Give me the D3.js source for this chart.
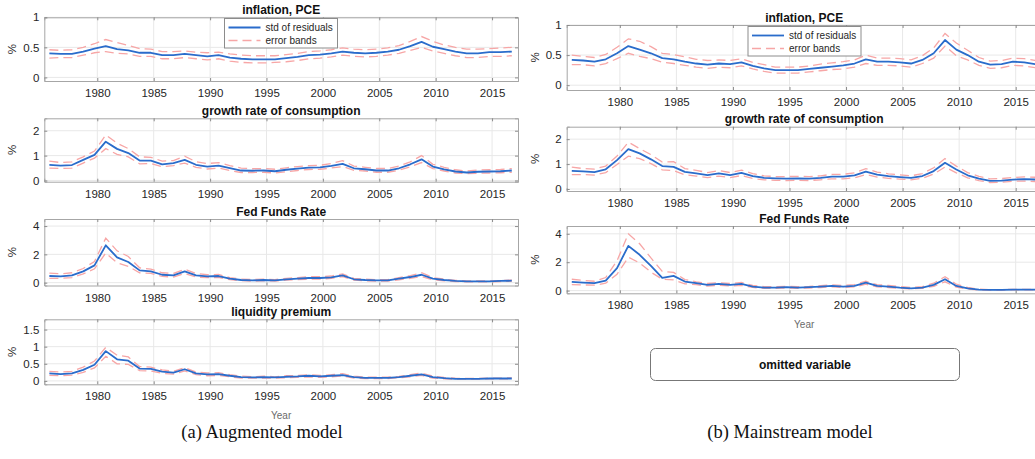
<!DOCTYPE html>
<html>
<head>
<meta charset="utf-8">
<script src="https://cdn.jsdelivr.net/npm/d3@7/dist/d3.min.js"></script>
<style>
  html, body { margin: 0; padding: 0; background: #fff; }
  svg { display: block; }
  text { font-family: "Liberation Sans", Arial, Helvetica, sans-serif; }
</style>
</head>
<body>
<svg id="chart" width="1035" height="459"></svg>
<script>
// Quarter-4 observation dates, 1975Q4 .. 2016Q4
const dates = d3.range(1975.75, 2017, 1);
const yearTicks = [1980, 1985, 1990, 1995, 2000, 2005, 2010, 2015];

// (a) Augmented model
const augInflMean = [0.40,0.39,0.39,0.43,0.48,0.52,0.47,0.45,0.41,0.41,0.37,0.37,0.39,0.37,0.35,0.37,0.33,0.31,0.30,0.30,0.30,0.32,0.34,0.37,0.38,0.40,0.43,0.41,0.40,0.41,0.43,0.46,0.52,0.59,0.51,0.47,0.43,0.40,0.40,0.42,0.42,0.43];
const augInflUp   = [0.46,0.45,0.46,0.50,0.56,0.63,0.58,0.53,0.48,0.47,0.43,0.43,0.44,0.42,0.41,0.42,0.39,0.37,0.36,0.36,0.36,0.38,0.40,0.43,0.44,0.46,0.49,0.47,0.46,0.47,0.49,0.53,0.60,0.68,0.60,0.54,0.50,0.47,0.47,0.48,0.49,0.50];
const augInflLo   = [0.32,0.33,0.33,0.37,0.41,0.43,0.40,0.39,0.35,0.35,0.31,0.31,0.33,0.31,0.29,0.31,0.27,0.25,0.24,0.24,0.25,0.26,0.28,0.31,0.32,0.34,0.37,0.35,0.34,0.35,0.37,0.40,0.45,0.50,0.44,0.40,0.36,0.33,0.33,0.35,0.35,0.36];

const augConsMean = [0.63,0.60,0.62,0.83,1.03,1.56,1.27,1.10,0.80,0.80,0.65,0.70,0.83,0.63,0.56,0.60,0.50,0.40,0.39,0.40,0.37,0.43,0.48,0.52,0.53,0.59,0.67,0.49,0.45,0.40,0.40,0.49,0.65,0.85,0.56,0.45,0.36,0.32,0.35,0.36,0.37,0.40];
const augConsUp   = [0.78,0.72,0.75,0.95,1.18,1.83,1.50,1.28,0.95,0.93,0.78,0.80,0.98,0.75,0.68,0.72,0.60,0.50,0.47,0.48,0.45,0.51,0.56,0.60,0.61,0.68,0.80,0.58,0.53,0.48,0.48,0.58,0.75,1.00,0.65,0.53,0.43,0.38,0.42,0.43,0.44,0.48];
const augConsLo   = [0.50,0.48,0.50,0.70,0.90,1.28,1.05,0.95,0.67,0.68,0.55,0.60,0.70,0.53,0.46,0.50,0.40,0.32,0.32,0.33,0.30,0.35,0.40,0.44,0.45,0.50,0.56,0.41,0.38,0.33,0.33,0.41,0.55,0.72,0.48,0.38,0.30,0.27,0.29,0.30,0.31,0.33];

const augFfrMean  = [0.47,0.45,0.52,0.80,1.22,2.64,1.79,1.46,0.87,0.80,0.56,0.52,0.80,0.52,0.45,0.47,0.28,0.19,0.16,0.19,0.16,0.24,0.28,0.33,0.33,0.38,0.52,0.24,0.19,0.16,0.16,0.28,0.40,0.56,0.28,0.19,0.12,0.09,0.09,0.09,0.12,0.14];
const augFfrUp    = [0.68,0.62,0.70,1.00,1.50,3.15,2.25,1.85,1.05,0.95,0.70,0.65,0.95,0.65,0.56,0.58,0.36,0.25,0.22,0.25,0.22,0.31,0.36,0.42,0.42,0.47,0.62,0.31,0.25,0.21,0.21,0.36,0.50,0.70,0.36,0.25,0.16,0.12,0.12,0.12,0.15,0.18];
const augFfrLo    = [0.30,0.30,0.36,0.62,0.98,2.10,1.40,1.15,0.70,0.65,0.44,0.40,0.65,0.40,0.35,0.37,0.21,0.14,0.11,0.14,0.11,0.18,0.21,0.25,0.25,0.30,0.42,0.18,0.14,0.11,0.11,0.20,0.31,0.43,0.20,0.13,0.08,0.06,0.06,0.06,0.08,0.10];

const augLiqMean  = [0.22,0.20,0.22,0.32,0.47,0.87,0.63,0.59,0.36,0.35,0.27,0.24,0.34,0.22,0.19,0.20,0.15,0.11,0.10,0.11,0.10,0.12,0.13,0.15,0.13,0.15,0.17,0.11,0.09,0.09,0.09,0.11,0.15,0.19,0.11,0.08,0.06,0.06,0.06,0.07,0.07,0.07];
const augLiqUp    = [0.28,0.26,0.28,0.40,0.58,0.98,0.75,0.70,0.42,0.40,0.32,0.28,0.39,0.26,0.23,0.24,0.18,0.14,0.12,0.14,0.12,0.15,0.16,0.18,0.16,0.18,0.21,0.14,0.11,0.11,0.11,0.13,0.18,0.23,0.14,0.10,0.08,0.07,0.07,0.08,0.08,0.09];
const augLiqLo    = [0.16,0.15,0.17,0.25,0.38,0.72,0.50,0.48,0.30,0.29,0.22,0.20,0.29,0.18,0.15,0.16,0.12,0.08,0.08,0.08,0.08,0.09,0.10,0.12,0.10,0.12,0.14,0.08,0.07,0.07,0.07,0.09,0.12,0.16,0.08,0.06,0.05,0.05,0.05,0.06,0.06,0.06];

// (b) Mainstream model
const mainInflMean = [0.42,0.41,0.39,0.43,0.53,0.65,0.59,0.53,0.45,0.43,0.39,0.36,0.34,0.36,0.35,0.38,0.32,0.28,0.25,0.25,0.25,0.27,0.29,0.31,0.33,0.36,0.43,0.39,0.39,0.38,0.36,0.42,0.53,0.75,0.59,0.50,0.39,0.34,0.35,0.39,0.38,0.35];
const mainInflUp   = [0.50,0.48,0.46,0.51,0.63,0.77,0.73,0.64,0.53,0.51,0.47,0.43,0.41,0.42,0.41,0.44,0.38,0.34,0.30,0.30,0.30,0.32,0.35,0.37,0.39,0.42,0.50,0.45,0.45,0.44,0.42,0.49,0.62,0.86,0.70,0.58,0.46,0.40,0.41,0.45,0.44,0.41];
const mainInflLo   = [0.34,0.34,0.32,0.36,0.44,0.53,0.48,0.44,0.38,0.36,0.33,0.30,0.28,0.30,0.29,0.32,0.27,0.23,0.20,0.20,0.20,0.22,0.24,0.26,0.27,0.30,0.36,0.33,0.33,0.32,0.30,0.36,0.45,0.65,0.49,0.42,0.33,0.28,0.29,0.33,0.32,0.29];

const mainConsMean = [0.73,0.71,0.68,0.79,1.16,1.60,1.43,1.19,0.92,0.89,0.69,0.63,0.56,0.63,0.56,0.65,0.52,0.45,0.43,0.42,0.43,0.42,0.45,0.50,0.50,0.55,0.70,0.58,0.52,0.48,0.45,0.52,0.72,1.05,0.78,0.55,0.42,0.33,0.34,0.38,0.40,0.38];
const mainConsUp   = [0.88,0.82,0.80,0.92,1.32,1.88,1.62,1.38,1.08,1.10,0.82,0.75,0.66,0.74,0.66,0.76,0.62,0.53,0.50,0.50,0.51,0.50,0.53,0.59,0.59,0.65,0.82,0.68,0.61,0.57,0.53,0.62,0.85,1.22,0.92,0.66,0.51,0.41,0.42,0.46,0.49,0.47];
const mainConsLo   = [0.58,0.58,0.56,0.66,0.98,1.32,1.22,1.02,0.77,0.74,0.57,0.52,0.46,0.52,0.46,0.54,0.42,0.37,0.35,0.34,0.35,0.34,0.37,0.41,0.41,0.45,0.58,0.48,0.43,0.40,0.37,0.43,0.60,0.88,0.65,0.45,0.34,0.26,0.27,0.31,0.32,0.30];

const mainFfrMean  = [0.61,0.56,0.52,0.71,1.58,3.15,2.52,1.74,0.90,1.04,0.64,0.52,0.40,0.47,0.40,0.47,0.28,0.21,0.21,0.24,0.21,0.24,0.28,0.33,0.28,0.33,0.56,0.33,0.28,0.21,0.16,0.21,0.40,0.80,0.33,0.16,0.07,0.05,0.05,0.07,0.07,0.07];
const mainFfrUp    = [0.80,0.72,0.66,0.92,2.10,4.00,3.30,2.30,1.35,1.28,0.78,0.62,0.50,0.56,0.50,0.58,0.36,0.28,0.27,0.30,0.27,0.30,0.35,0.40,0.36,0.42,0.66,0.42,0.36,0.28,0.22,0.28,0.52,0.98,0.45,0.22,0.10,0.07,0.07,0.09,0.09,0.09];
const mainFfrLo    = [0.42,0.40,0.38,0.52,1.15,2.35,1.95,1.30,0.80,0.75,0.48,0.42,0.32,0.38,0.32,0.37,0.22,0.16,0.16,0.18,0.16,0.18,0.22,0.26,0.22,0.26,0.45,0.26,0.22,0.16,0.12,0.16,0.30,0.62,0.24,0.11,0.05,0.03,0.03,0.05,0.05,0.05];

const legendLabels = ["std of residuals", "error bands"];
const captions = ["(a) Augmented model", "(b) Mainstream model"];
const omittedLabel = "omitted variable";

// Panel layout: plot box in pixels plus y-axis limits and ticks
const panels = [
  { title: "inflation, PCE", x0: 44.3, x1: 518, y0: 17.3, y1: 81, yDom: [-0.06, 1], yTicks: [0, 0.5, 1],
    mean: augInflMean, up: augInflUp, lo: augInflLo, legend: { x: 224.5, y: 18.5 } },
  { title: "growth rate of consumption", x0: 44.3, x1: 518, y0: 118.3, y1: 181.7, yDom: [-0.05, 2.5], yTicks: [0, 1, 2],
    mean: augConsMean, up: augConsUp, lo: augConsLo },
  { title: "Fed Funds Rate", x0: 44.3, x1: 518, y0: 219, y1: 285.5, yDom: [-0.2, 4.5], yTicks: [0, 2, 4],
    mean: augFfrMean, up: augFfrUp, lo: augFfrLo },
  { title: "liquidity premium", x0: 44.3, x1: 518, y0: 319.3, y1: 384.3, yDom: [-0.1, 1.8], yTicks: [0, 0.5, 1, 1.5],
    mean: augLiqMean, up: augLiqUp, lo: augLiqLo, xlabel: true },
  { title: "inflation, PCE", x0: 566.7, x1: 1041.7, y0: 25, y1: 90, yDom: [-0.08, 1], yTicks: [0, 0.5, 1],
    mean: mainInflMean, up: mainInflUp, lo: mainInflLo, legend: { x: 748, y: 26.5 } },
  { title: "growth rate of consumption", x0: 566.7, x1: 1041.7, y0: 126.7, y1: 191, yDom: [-0.08, 2.5], yTicks: [0, 1, 2],
    mean: mainConsMean, up: mainConsUp, lo: mainConsLo },
  { title: "Fed Funds Rate", x0: 566.7, x1: 1041.7, y0: 226, y1: 293.3, yDom: [-0.19, 4.55], yTicks: [0, 2, 4],
    mean: mainFfrMean, up: mainFfrUp, lo: mainFfrLo, xlabel: true }
];

const BLUE = "#2a6ccb";
const BAND = "#f7a6a6";
const GRID = "#e8e8e8";
const AXIS = "#a6a6a6";
const TICKTXT = "#262626";
const DASH = "9,5";

const svg = d3.select("#chart");

panels.forEach(p => {
  const x = d3.scaleLinear().domain([1975.3, 2017.3]).range([p.x0, p.x1]);
  const y = d3.scaleLinear().domain(p.yDom).range([p.y1, p.y0]);
  const g = svg.append("g");
  const w = p.x1 - p.x0, h = p.y1 - p.y0;

  // grid
  g.append("g").selectAll("line").data(yearTicks).join("line")
    .attr("x1", d => x(d)).attr("x2", d => x(d))
    .attr("y1", p.y0).attr("y2", p.y1)
    .attr("stroke", GRID).attr("stroke-width", 1);
  g.append("g").selectAll("line").data(p.yTicks).join("line")
    .attr("x1", p.x0).attr("x2", p.x1)
    .attr("y1", d => y(d)).attr("y2", d => y(d))
    .attr("stroke", GRID).attr("stroke-width", 1);

  // series
  const line = arr => d3.line().x((d, i) => x(dates[i])).y(d => y(d))(arr);
  const clipId = "clip" + Math.round(p.x0) + "_" + Math.round(p.y0);
  svg.append("clipPath").attr("id", clipId).append("rect")
    .attr("x", p.x0).attr("y", p.y0).attr("width", w).attr("height", h);
  const s = g.append("g").attr("clip-path", `url(#${clipId})`);
  [p.up, p.lo].forEach(arr => {
    s.append("path").attr("d", line(arr)).attr("fill", "none")
      .attr("stroke", BAND).attr("stroke-width", 1.3).attr("stroke-dasharray", DASH);
  });
  s.append("path").attr("d", line(p.mean)).attr("fill", "none")
    .attr("stroke", BLUE).attr("stroke-width", 1.8).attr("stroke-linejoin", "round");

  // axes: inward ticks on all four sides, MATLAB-style
  const fmt = d3.format("~g");
  g.append("g").attr("transform", `translate(0,${p.y1})`)
    .call(d3.axisBottom(x).tickValues(yearTicks).tickSize(-3).tickPadding(8).tickFormat(d3.format("d")));
  g.append("g").attr("transform", `translate(0,${p.y0})`)
    .call(d3.axisTop(x).tickValues(yearTicks).tickSize(-3).tickFormat(""));
  g.append("g").attr("transform", `translate(${p.x0},0)`)
    .call(d3.axisLeft(y).tickValues(p.yTicks).tickSize(-3).tickPadding(5).tickFormat(fmt));
  g.append("g").attr("transform", `translate(${p.x1},0)`)
    .call(d3.axisRight(y).tickValues(p.yTicks).tickSize(-3).tickFormat(""));
  g.selectAll(".domain").attr("stroke", AXIS).attr("stroke-width", 1);
  g.selectAll(".tick line").attr("stroke", "#8c8c8c");
  g.selectAll(".tick text").attr("fill", TICKTXT).style("font-size", "11.5px")
    .style("font-family", '"Liberation Sans", Arial, sans-serif');

  // y label
  g.append("text")
    .attr("transform", `translate(${p.x0 - 28},${(p.y0 + p.y1) / 2}) rotate(-90)`)
    .attr("text-anchor", "middle").attr("fill", TICKTXT)
    .style("font-size", "11.5px").text("%");

  // title
  g.append("text").attr("x", (p.x0 + p.x1) / 2).attr("y", p.y0 - 3.5)
    .attr("text-anchor", "middle").attr("fill", "#111")
    .style("font-size", "12px").style("font-weight", "bold").text(p.title);

  if (p.xlabel) {
    g.append("text").attr("x", (p.x0 + p.x1) / 2).attr("y", p.y1 + 35)
      .attr("text-anchor", "middle").attr("fill", "#6b6b6b")
      .style("font-size", "10px").text("Year");
  }

  if (p.legend) {
    const L = g.append("g").attr("transform", `translate(${p.legend.x},${p.legend.y})`);
    L.append("rect").attr("width", 113).attr("height", 29.5)
      .attr("fill", "#fff").attr("stroke", "#8c8c8c").attr("stroke-width", 1);
    legendLabels.forEach((lab, i) => {
      const yy = 9 + i * 13;
      L.append("line").attr("x1", 4).attr("x2", 36).attr("y1", yy).attr("y2", yy)
        .attr("stroke", i === 0 ? BLUE : BAND).attr("stroke-width", i === 0 ? 1.8 : 1.3)
        .attr("stroke-dasharray", i === 0 ? null : DASH);
      L.append("text").attr("x", 41).attr("y", yy + 3.5).attr("fill", TICKTXT)
        .style("font-size", "10px").text(lab);
    });
  }
});

// placeholder panel for the variable missing from the mainstream model
svg.append("rect").attr("x", 650.5).attr("y", 348.5).attr("width", 309).attr("height", 32)
  .attr("rx", 5).attr("fill", "#fff").attr("stroke", "#777").attr("stroke-width", 1);
svg.append("text").attr("x", 805).attr("y", 368.5).attr("text-anchor", "middle")
  .attr("fill", "#111").style("font-size", "12px").style("font-weight", "bold").text(omittedLabel);

// sub-figure captions
[[262, captions[0]], [790, captions[1]]].forEach(([cx, t]) => {
  svg.append("text").attr("x", cx).attr("y", 438).attr("text-anchor", "middle")
    .attr("fill", "#111").style("font-family", '"Liberation Serif", "Times New Roman", serif')
    .style("font-size", "18.5px").text(t);
});
</script>
</body>
</html>
